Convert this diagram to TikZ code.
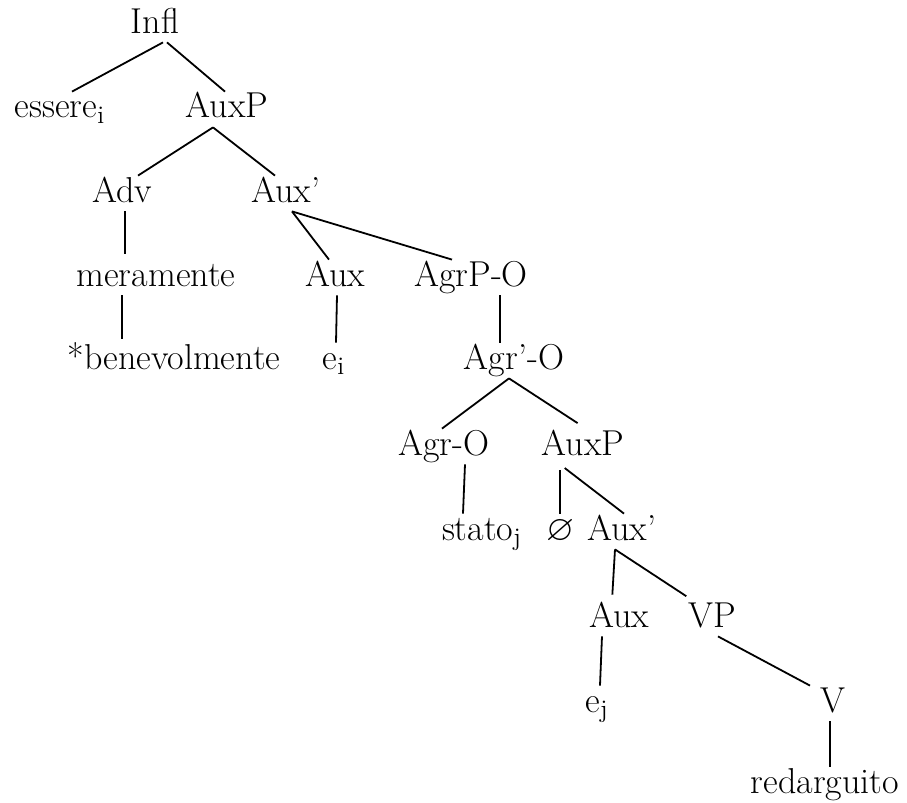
\documentclass[tikz,border=0pt]{standalone}
\usepackage{amsmath}
\usepackage{amssymb}
\usepackage{tikz}

\begin{document}
\begin{tikzpicture}[x=0.5pt,y=-0.5pt,
	cat/.style={inner sep=0pt,anchor=base,text height=13pt,text depth=4.5pt,font=\fontsize{18}{21}\selectfont},
	branch/.style={line width=0.9pt}]
	\useasboundingbox (0,0) rectangle (907,803);
	% categories and words, row by row
	\node[cat] (infl) at (155,33) {Infl};
	\node[cat] (essere) at (60,118) {essere\textsubscript{i}};
	\node[cat] (auxp) at (227,118) {AuxP};
	\node[cat] (adv) at (122,202) {Adv};
	\node[cat] (auxbar) at (286,202) {Aux'};
	\node[cat] (mera) at (156,286) {meramente};
	\node[cat] (aux) at (335,286) {Aux};
	\node[cat] (agrp) at (471,286) {AgrP-O};
	\node[cat] (benev) at (174,369) {*benevolmente};
	\node[cat] (ei) at (334,369) {e\textsubscript{i}};
	\node[cat] (agrbar) at (514,369) {Agr'-O};
	\node[cat] (agro) at (444,455) {Agr-O};
	\node[cat] (auxpb) at (583,455) {AuxP};
	\node[cat] (stato) at (482,540) {stato\textsubscript{j}};
	\node[cat] (null) at (560,540) {$\varnothing$};
	\node[cat] (auxbarb) at (622,540) {Aux'};
	\node[cat] (auxc) at (619,627) {Aux};
	\node[cat] (vp) at (712,627) {VP};
	\node[cat] (ej) at (597,712) {e\textsubscript{j}};
	\node[cat] (v) at (833,712) {V};
	\node[cat] (redarg) at (825,793) {redarguito};
	% branches
	\draw[branch] ([xshift=4pt]infl.south) -- ([xshift=6pt]essere.north);
	\draw[branch] ([xshift=6pt]infl.south) -- ([xshift=-1pt]auxp.north);
	\draw[branch] ([xshift=-7pt]auxp.south) -- ([xshift=8pt]adv.north);
	\draw[branch] ([xshift=-7pt]auxp.south) -- ([xshift=-5.5pt]auxbar.north);
	\draw[branch,shorten >=3pt] ([xshift=1.5pt]adv.south) -- ([xshift=-15.5pt]mera.north);
	\draw[branch] ([xshift=3pt]auxbar.south) -- ([xshift=-3pt]aux.north);
	\draw[branch] ([xshift=3pt]auxbar.south) -- ([xshift=-9.5pt]agrp.north);
	\draw[branch,shorten >=2pt] ([xshift=-17pt]mera.south) -- ([xshift=-26pt]benev.north);
	\draw[branch] ([xshift=1pt]aux.south) -- ([xshift=1pt]ei.north);
	\draw[branch] ([xshift=14.5pt]agrp.south) -- ([xshift=-7pt]agrbar.north);
	\draw[branch] ([xshift=-2.5pt]agrbar.south) -- ([xshift=-1pt]agro.north);
	\draw[branch,shorten >=5pt] ([xshift=-2.5pt]agrbar.south) -- ([xshift=1.5pt]auxpb.north);
	\draw[branch] ([xshift=10.5pt]agro.south) -- ([xshift=-9.5pt]stato.north);
	\draw[branch,shorten <=3pt] ([xshift=-11.5pt]auxpb.south) -- (null.north);
	\draw[branch,shorten <=3pt] ([xshift=-11.5pt]auxpb.south) -- ([xshift=1pt]auxbarb.north);
	\draw[branch,shorten >=3pt] ([xshift=-3.5pt]auxbarb.south) -- ([xshift=-3.5pt]auxc.north);
	\draw[branch,shorten >=4pt] ([xshift=-3.5pt]auxbarb.south) -- ([xshift=-9.5pt]vp.north);
	\draw[branch] ([xshift=-8.5pt]auxc.south) -- ([xshift=1.5pt]ej.north);
	\draw[branch] ([xshift=3pt]vp.south) -- ([xshift=-11.5pt]v.north);
	\draw[branch] ([xshift=-1.5pt]v.south) -- ([xshift=2.5pt]redarg.north);
\end{tikzpicture}
\end{document}
